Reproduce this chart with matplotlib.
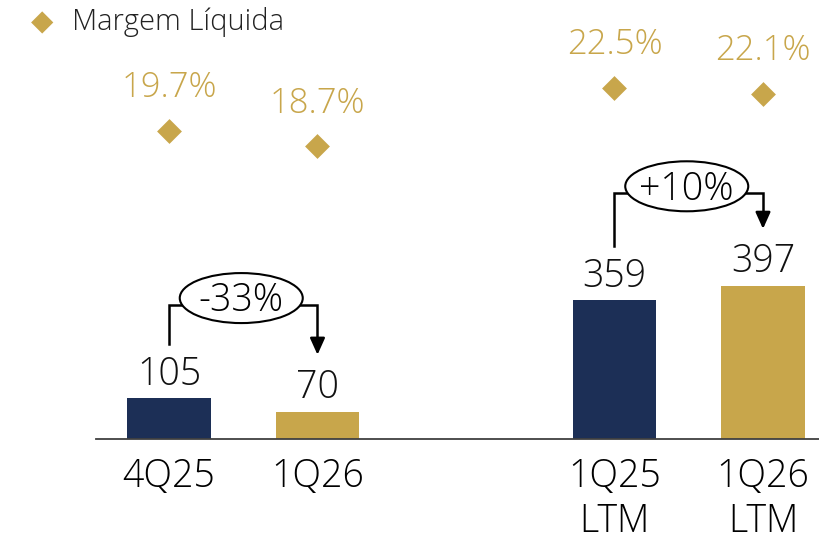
import numpy as np
import matplotlib
matplotlib.use("Agg")
import matplotlib.pyplot as plt
from matplotlib.patches import Ellipse

## Data ##
categories = ["4Q25", "1Q26", "1Q25\nLTM", "1Q26\nLTM"]
positions = [0, 1, 3, 4]
lucro = [105, 70, 359, 397]
margem = [19.7, 18.7, 22.5, 22.1]
margem_labels = ["19.7%", "18.7%", "22.5%", "22.1%"]
comparisons = [(0, 1, "-33%"), (2, 3, "+10%")]

## Style ##
NAVY = "#1c2f56"
GOLD = "#c8a64b"
FONT = "Open Sans"
W, H = 820, 541
PX_X = 148.5      # px per x unit
PX_Y = 0.385      # px per bar unit
PX_M = 15.36      # px per margin %
BASE = 438.5      # baseline px from top

fig = plt.figure(figsize=(W / 100, H / 100), dpi=100)
left = 96 / W
ax = fig.add_axes([left, (H - BASE) / H, 1 - left, BASE / H])
ax.set_xlim(-(169 - 96) / PX_X, 4 + (820 - 763) / PX_X)
ax.set_ylim(0, BASE / PX_Y)

colors = [NAVY, GOLD, NAVY, GOLD]
ax.bar(positions, lucro, width=0.56, color=colors, zorder=2)

for x, v in zip(positions, lucro):
    ax.annotate(str(v), (x, v), xytext=(0, 3), textcoords="offset points",
                ha="center", va="bottom", fontsize=27, family=FONT,
                weight="light", color="#111111")

for s in ["top", "right", "left"]:
    ax.spines[s].set_visible(False)
ax.spines["bottom"].set_color("#404040")
ax.spines["bottom"].set_linewidth(1.3)
ax.set_yticks([])
ax.set_xticks(positions)
ax.set_xticklabels(categories, fontsize=27, family=FONT, weight="light",
                   linespacing=1.2)
ax.tick_params(axis="x", length=0, pad=14)

# margem on twin axis
ax2 = ax.twinx()
lo = 19.7 - (BASE - 131) / PX_M
ax2.set_ylim(lo, lo + BASE / PX_M)
ax2.set_yticks([])
for s in ax2.spines.values():
    s.set_visible(False)
ax2.scatter(positions, margem, marker="D", s=160, color=GOLD, zorder=3,
            linewidths=0)
for x, m, lab in zip(positions, margem, margem_labels):
    ax2.annotate(lab, (x, m), xytext=(0, 31), textcoords="offset points",
                 ha="center", va="center", fontsize=25, family=FONT,
                 weight="light", color=GOLD)

# comparison brackets
bracket_up = [93, 107]   # px above left bar top for the horizontal line
for (i, j, txt), up in zip(comparisons, bracket_up):
    xi, xj = positions[i], positions[j]
    y0 = lucro[i] + 54 / PX_Y
    ytop = lucro[i] + up / PX_Y
    ytip = lucro[j] + 54 / PX_Y
    ax.plot([xi, xi, xj, xj], [y0, ytop, ytop, ytip + 14 / PX_Y],
            color="black", lw=1.8, zorder=4, solid_joinstyle="miter")
    ax.annotate("", xy=(xj, ytip), xytext=(xj, ytip + 16 / PX_Y),
                arrowprops=dict(arrowstyle="-|>,head_width=0.45,head_length=1.0",
                                color="black", lw=1.8), zorder=5)
    cx = (xi + xj) / 2 - 2 / PX_X
    cy = ytop + 7 / PX_Y
    ax.add_patch(Ellipse((cx, cy), 123 / PX_X, 50 / PX_Y, fc="white",
                         ec="black", lw=1.5, zorder=6))
    ax.text(cx, cy - 3 / PX_Y, txt, ha="center", va="center", fontsize=27,
            family=FONT, weight="light", color="black", zorder=7)

# legend
fig.text(42 / W, 1 - 22 / H, "\u25C6", color=GOLD, fontsize=21,
         ha="center", va="center", family="DejaVu Sans")
fig.text(72 / W, 1 - 22 / H, "Margem Líquida", fontsize=21, family=FONT,
         weight="light", color="#222222", ha="left", va="center")

fig.savefig("out.png", dpi=100)
